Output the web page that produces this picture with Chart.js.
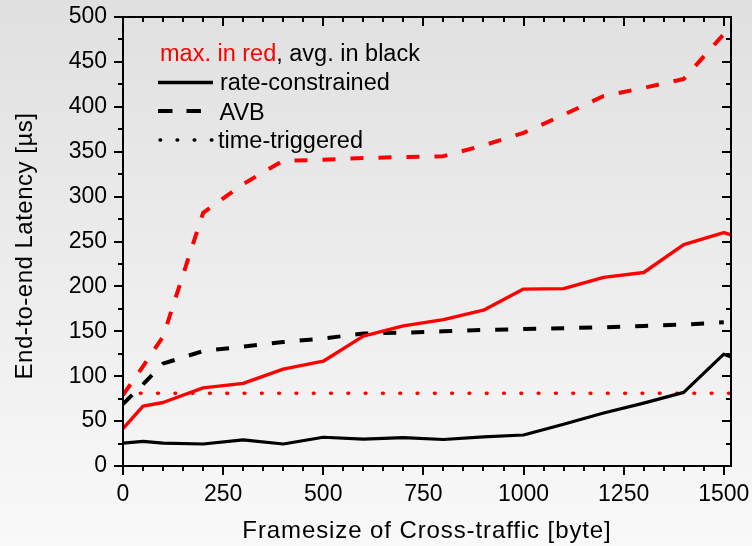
<!DOCTYPE html>
<html><head><meta charset="utf-8">
<script src="https://cdn.jsdelivr.net/npm/chart.js@4/dist/chart.umd.min.js"></script>
<style>
html,body{margin:0;padding:0;}
body{width:752px;height:546px;background:linear-gradient(to bottom,#e0e0e0 0%,#f9f9f9 100%);overflow:hidden;}
canvas{display:block;}
</style></head><body>
<canvas id="c" width="752" height="546"></canvas>
<script>
// ---- data ----
const frameSizes    = [0,50,100,200,300,400,500,600,700,800,900,1000,1100,1200,1300,1400,1500];
const rcFrameSizes  = [0,50,100,200,300,400,500,600,700,800,900,1000,1100,1200,1300,1400,1500,1518];
const ttFrameSizes  = [0,1518];
const maxRC  = [41.7,66.6,70.7,87,92,107.8,116.7,144.6,156,163,173.5,197,197.5,210,215.5,246.5,260,257.5];
const avgRC  = [25.5,27.5,25.5,24.5,29,24.5,32,30,31.5,29.5,32.5,34.5,46.5,59,70,82,124.5,121.5];
const maxAVB = [79,111,144,282,314,340,341,343,344,345,357,371,391,412,421,431,481];
const avgAVB = [69,91,114,128,133,138,142,147.5,148.5,150,151.5,152.5,153.5,154.5,156,157.5,160];
const maxTT  = [81,81];
const xTickLabels = [0,250,500,750,1000,1250,1500];
const yTickLabels = [0,50,100,150,200,250,300,350,400,450,500];
const xMinorTicks = [0,50,100,150,200,250,300,350,400,450,500,550,600,650,700,750,800,850,900,950,1000,1050,1100,1150,1200,1250,1300,1350,1400,1450,1500];
const yMinorTicks = [0,25,50,75,100,125,150,175,200,225,250,275,300,325,350,375,400,425,450,475,500];
const legendHeader = ['max. in red', ', avg. in black'];
const legendLabels = ['rate-constrained','AVB','time-triggered'];
const xTitle = 'Framesize of Cross-traffic [byte]';
const yTitle = 'End-to-end Latency [µs]';

const pts = (xs, ys) => xs.map((x,i)=>({x, y: ys[i]}));
const FONT = '"Liberation Sans", Arial, sans-serif';

const framePlugin = {
  id:'frame',
  afterDatasetsDraw(chart){
    const {ctx, chartArea:a, scales:{x,y}} = chart;
    ctx.save();
    ctx.strokeStyle='#000'; ctx.lineWidth=2;
    ctx.strokeRect(a.left,a.top,a.right-a.left,a.bottom-a.top);
    ctx.beginPath();
    xMinorTicks.forEach(v=>{
      const px = Math.round(x.getPixelForValue(v));
      const L = xTickLabels.includes(v) ? 9 : 5;
      ctx.moveTo(px,a.bottom); ctx.lineTo(px,a.bottom+L);
      ctx.moveTo(px,a.top); ctx.lineTo(px,a.top+L);
    });
    yMinorTicks.forEach(v=>{
      const py = Math.round(y.getPixelForValue(v));
      const L = yTickLabels.includes(v) ? 9 : 5;
      ctx.moveTo(a.left,py); ctx.lineTo(a.left-L,py);
      ctx.moveTo(a.right,py); ctx.lineTo(a.right-L,py);
    });
    ctx.stroke();
    ctx.restore();
  },
  afterDraw(chart){
    const {ctx, chartArea:a} = chart;
    ctx.save();
    // axis titles
    ctx.fillStyle='#000';
    ctx.font = '24px '+FONT;
    ctx.textBaseline='alphabetic';
    ctx.textAlign='center';
    try{ ctx.letterSpacing='0.9px'; }catch(e){}
    ctx.fillText(xTitle,(a.left+a.right)/2,538);
    ctx.save();
    ctx.translate(32,246);
    ctx.rotate(-Math.PI/2);
    try{ ctx.letterSpacing='0.5px'; }catch(e){}
    ctx.fillText(yTitle,0,0);
    ctx.restore();
    try{ ctx.letterSpacing='0px'; }catch(e){}
    // legend
    ctx.font='23.5px '+FONT;
    ctx.textAlign='left';
    ctx.fillStyle='#ff0000';
    ctx.fillText(legendHeader[0],160,61);
    const w0 = ctx.measureText(legendHeader[0]).width;
    ctx.fillStyle='#000';
    ctx.fillText(legendHeader[1],160+w0,61);
    ctx.fillText(legendLabels[0],220,89.5);
    ctx.fillText(legendLabels[1],219.5,120);
    ctx.fillText(legendLabels[2],218,147.5);
    ctx.strokeStyle='#000';
    // solid
    ctx.lineWidth=3.5; ctx.setLineDash([]); ctx.lineCap='butt';
    ctx.beginPath(); ctx.moveTo(158,82.5); ctx.lineTo(213,82.5); ctx.stroke();
    // dashed
    ctx.lineWidth=4; ctx.setLineDash([14.5,14]);
    ctx.beginPath(); ctx.moveTo(158,111); ctx.lineTo(202,111); ctx.stroke();
    // dotted
    ctx.lineWidth=3.5; ctx.lineCap='round'; ctx.setLineDash([0.6,16.5]);
    ctx.beginPath(); ctx.moveTo(160,140); ctx.lineTo(213,140); ctx.stroke();
    ctx.restore();
  }
};

function noPad(s){ s.paddingLeft = 0; s.paddingRight = 0; s.paddingTop = 0; s.paddingBottom = 0; }

new Chart(document.getElementById('c'),{
  type:'line',
  data:{
    datasets:[
      {label:'avg rate-constrained', data:pts(rcFrameSizes,avgRC), borderColor:'#000', borderWidth:3.2},
      {label:'max rate-constrained', data:pts(rcFrameSizes,maxRC), borderColor:'#ff0000', borderWidth:3.4},
      {label:'avg AVB', data:pts(frameSizes,avgAVB), borderColor:'#000', borderWidth:4, borderDash:[13,15]},
      {label:'max AVB', data:pts(frameSizes,maxAVB), borderColor:'#ff0000', borderWidth:4, borderDash:[13,15]},
      {label:'max time-triggered', data:pts(ttFrameSizes,maxTT), borderColor:'#ff0000', borderWidth:3.5, borderDash:[0.8,16.5], borderCapStyle:'round'}
    ]
  },
  options:{
    responsive:false,
    animation:false,
    devicePixelRatio:1,
    layout:{autoPadding:false, padding:{left:0,right:21,top:17,bottom:0}},
    elements:{point:{radius:0}, line:{tension:0, borderJoinStyle:'round'}},
    datasets:{line:{clip:0, fill:false}},
    plugins:{legend:{display:false}, tooltip:{enabled:false}},
    scales:{
      x:{
        type:'linear', min:0, max:1518,
        grid:{display:false, drawTicks:false}, border:{display:false},
        afterBuildTicks(s){ s.ticks = xTickLabels.map(v=>({value:v})); },
        afterFit(s){ s.height = 80; noPad(s); },
        ticks:{padding:15, color:'#000', font:{family:FONT, size:23}, autoSkip:false, maxRotation:0, callback:v=>String(v)}
      },
      y:{
        type:'linear', min:0, max:500,
        grid:{display:false, drawTicks:false}, border:{display:false},
        afterBuildTicks(s){ s.ticks = yTickLabels.map(v=>({value:v})); },
        afterFit(s){ s.width = 123; noPad(s); },
        ticks:{padding:16, color:'#000', font:{family:FONT, size:23}, autoSkip:false, callback:v=>String(v)}
      }
    }
  },
  plugins:[framePlugin]
});
</script>
</body></html>
